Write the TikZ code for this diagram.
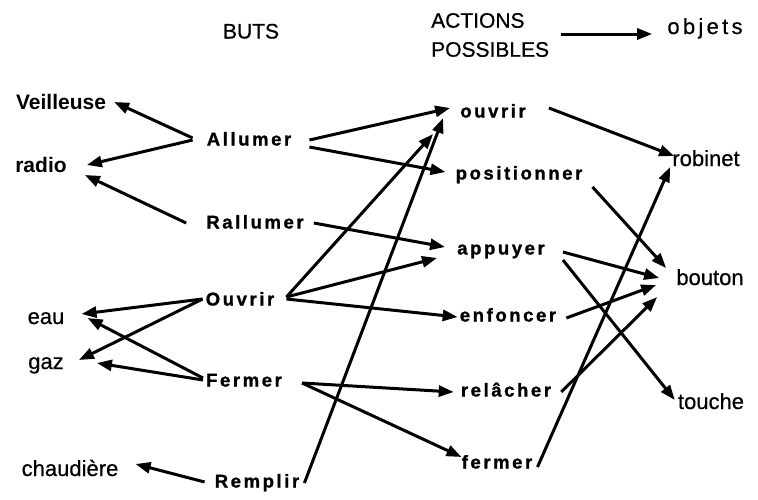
\documentclass[tikz,border=0pt]{standalone}
\usepackage{fontspec}
\setmainfont{Liberation Sans}
\newfontfamily\spacedfont[LetterSpace=14, BoldFeatures={FakeBold=1.2}]{Liberation Sans}
\newfontfamily\objfont[UprightFeatures={FakeBold=0.6}]{Liberation Sans}
\newfontfamily\widefont[LetterSpace=15, UprightFeatures={FakeBold=0.6}]{Liberation Sans}
\usetikzlibrary{arrows.meta, calc}

\begin{document}
\begin{tikzpicture}[x=1pt, y=-1pt,
  obj/.style={inner sep=0pt, text height=16pt, text depth=0pt, font=\fontsize{22}{26}\objfont},
  objb/.style={obj, font=\fontsize{21}{26}\selectfont\bfseries},
  goal/.style={inner sep=0pt, text height=13pt, text depth=0pt, font=\fontsize{18.5}{22}\spacedfont\bfseries},
  head/.style={inner sep=0pt, font=\fontsize{21}{29}\objfont},
  link/.style={-{Triangle[length=15pt, width=11pt]}, line width=3pt}]
  \useasboundingbox (0,0) rectangle (758,499);

  % Headers
  \node[head, text height=15pt, text depth=0pt] (buts) at (251,31) {BUTS};
  \node[head, align=left, anchor=west] (actions) at (431,35) {ACTIONS\\POSSIBLES};
  \node[obj, font=\fontsize{22}{26}\widefont] (objets) at (705,26) {objets};
  \draw[link] ($(actions.east)+(12,-1)$) -- ($(objets.west)+(-15,8)$);

  % Objects (left)
  \node[objb] (veil) at (61,101) {Veilleuse};
  \node[objb] (radio) at (41,164) {radio};
  \node[obj] (eau) at (46,316) {eau};
  \node[obj] (gaz) at (46,361) {gaz};
  \node[obj] (chaud) at (70,468) {chaudière};

  % Goals
  \node[goal] (allumer) at (249,139) {Allumer};
  \node[goal] (rallumer) at (255,222) {Rallumer};
  \node[goal] (ouvrirB) at (240,299) {Ouvrir};
  \node[goal] (fermerB) at (244,380) {Fermer};
  \node[goal] (remplir) at (257,481) {Remplir};

  % Actions
  \node[goal] (ouvrirA) at (493,111) {ouvrir};
  \node[goal] (position) at (519,173) {positionner};
  \node[goal] (appuyer) at (501,248) {appuyer};
  \node[goal] (enfoncer) at (508,315) {enfoncer};
  \node[goal] (relacher) at (506,390) {relâcher};
  \node[goal] (fermerA) at (497,462) {fermer};

  % Objects (right)
  \node[obj] (robinet) at (706,158) {robinet};
  \node[obj] (bouton) at (710,277) {bouton};
  \node[obj] (touche) at (711,401) {touche};

  % Goals -> objects
  \draw[link] ($(allumer.west)+(-14,-1)$) -- ($(veil.east)+(8,1)$);
  \draw[link] ($(allumer.west)+(-14,1)$) -- ($(radio.east)+(20,1)$);
  \draw[link] ($(rallumer.west)+(-20,1)$) -- ($(radio.east)+(18,11)$);
  \draw[link] ($(ouvrirB.west)+(-3,0)$) -- ($(eau.east)+(17,-2)$);
  \draw[link] ($(ouvrirB.west)+(-3,0)$) -- ($(gaz.east)+(15,-1)$);
  \draw[link] ($(fermerB.west)+(-3,-2)$) -- ($(eau.east)+(23,2)$);
  \draw[link] ($(fermerB.west)+(-3,0)$) -- ($(gaz.east)+(33,2)$);
  \draw[link] ($(remplir.west)+(-10,1)$) -- ($(chaud.east)+(17,-4)$);

  % Goals -> actions
  \draw[link] ($(allumer.east)+(18,1)$) -- ($(ouvrirA.west)+(-10,-3)$);
  \draw[link] ($(allumer.east)+(18,8)$) -- ($(position.west)+(-10,-1)$);
  \draw[link] ($(rallumer.east)+(10,1)$) -- ($(appuyer.west)+(-12,-1)$);
  \draw[link] ($(ouvrirB.east)+(12,-2)$) -- ($(ouvrirA.west)+(-27,23)$);
  \draw[link] ($(ouvrirB.east)+(12,-2)$) -- ($(appuyer.west)+(-20,10)$);
  \draw[link] ($(ouvrirB.east)+(12,0)$) -- ($(enfoncer.west)+(-2,2)$);
  \draw[link] ($(fermerB.east)+(20,3)$) -- ($(relacher.west)+(-7,2)$);
  \draw[link] ($(fermerB.east)+(20,3)$) -- ($(fermerA.west)+(0,-5)$);
  \draw[link] ($(remplir.east)+(5,2)$) -- ($(ouvrirA.west)+(-17,7)$);

  % Actions -> objects
  \draw[link] ($(ouvrirA.east)+(23,-3)$) -- ($(robinet.west)+(2,-2)$);
  \draw[link] ($(position.east)+(10,14)$) -- ($(bouton.west)+(-10,-9)$);
  \draw[link] ($(fermerA.east)+(5,5)$) -- ($(robinet.west)+(-2,9)$);
  \draw[link] ($(appuyer.east)+(18,4)$) -- ($(bouton.west)+(-17,1)$);
  \draw[link] ($(appuyer.east)+(18,12)$) -- ($(touche.west)+(-3,-1)$);
  \draw[link] ($(enfoncer.east)+(10,3)$) -- ($(bouton.west)+(-20,8)$);
  \draw[link] ($(relacher.east)+(10,2)$) -- ($(bouton.west)+(-19,20)$);
\end{tikzpicture}
\end{document}
